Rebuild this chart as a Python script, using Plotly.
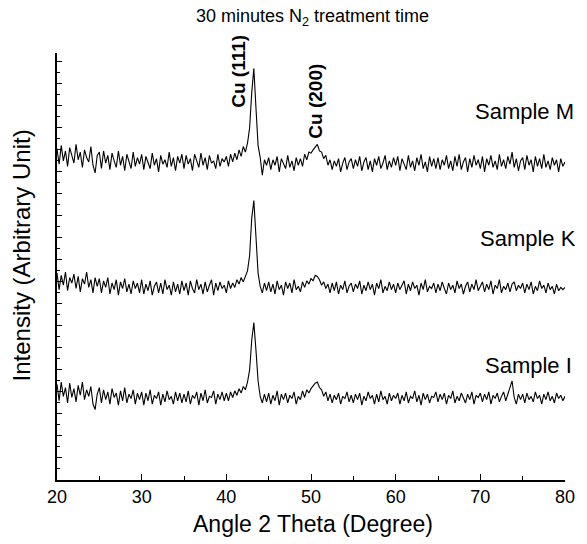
import plotly.graph_objects as go

# 2-theta sampling (degrees), 0.25 degree step from 20 to 80
angle_start = 20.0
angle_step = 0.25

sample_m = [
    30.1, 28.7, 30.4, 29.0, 29.9, 28.5, 30.2, 29.6, 28.8, 30.5, 29.1, 29.8, 28.4, 30.0, 29.3, 28.9, 30.3, 28.6, 27.9, 29.5,
    29.8, 28.3, 29.9, 28.8, 29.5, 28.2, 29.7, 29.0, 28.4, 29.9, 28.6, 29.4, 28.1, 29.6, 28.9, 28.3, 29.8, 28.5, 29.3, 28.7,
    29.6, 28.2, 29.4, 28.9, 28.3, 29.7, 28.6, 29.2, 28.0, 29.5, 28.7, 29.1, 28.4, 29.8, 28.5, 29.3, 28.1, 29.4, 28.8, 29.6,
    28.3, 29.5, 28.7, 29.2, 28.1, 29.6, 28.9, 28.4, 29.7, 28.6, 29.3, 28.2, 29.5, 28.8, 29.0, 28.3, 29.6, 28.5, 29.2, 28.9,
    29.4, 28.5, 29.6, 28.9, 29.7, 29.1, 30.0, 29.4, 30.3, 29.8, 30.6, 32.0, 35.2, 37.4, 33.8, 30.4, 29.3, 27.7, 29.1, 28.6,
    29.3, 28.2, 29.1, 28.6, 29.4, 28.0, 29.2, 28.7, 28.3, 29.5, 28.4, 29.0, 28.1, 29.3, 28.6, 29.2, 28.5, 29.6, 29.1, 29.8,
    29.7, 30.0, 30.2, 30.5, 29.9, 29.8, 29.2, 29.5, 28.6, 29.1, 28.2, 29.0, 28.5, 29.2, 28.0, 28.8, 29.3, 28.2, 28.9, 29.2,
    28.3, 29.1, 28.5, 29.4, 28.1, 28.9, 29.3, 28.2, 29.0, 28.0, 29.2, 28.6, 29.4, 28.3, 28.8, 29.5, 28.2, 29.0, 28.4, 29.3,
    28.6, 29.4, 28.1, 29.2, 28.7, 28.2, 29.5, 28.4, 29.0, 28.1, 29.3, 28.6, 29.6, 28.3, 28.9, 28.0, 29.4, 28.5, 29.2, 28.3,
    29.3, 28.2, 29.1, 28.6, 29.5, 28.3, 29.0, 28.1, 29.4, 28.5, 29.6, 28.2, 28.9, 29.3, 28.0, 29.2, 28.4, 29.5, 28.6, 29.1,
    28.3, 29.4, 28.0, 29.2, 28.6, 29.5, 28.4, 29.0, 28.2, 29.6, 28.5, 29.1, 28.3, 29.4, 28.7, 29.8, 28.4, 29.2, 28.1, 29.0,
    29.3, 28.2, 29.5, 28.6, 29.1, 28.0, 29.4, 28.5, 29.2, 28.3, 29.6, 28.4, 29.0, 28.2, 29.3, 28.6, 29.1, 28.0, 29.2, 28.5,
    28.9,
]

sample_k = [
    18.8, 17.3, 18.6, 17.7, 18.9, 17.2, 18.4, 17.9, 18.7, 17.4, 18.5, 17.1, 18.3, 17.8, 18.9, 17.5, 18.2, 17.0, 18.4, 17.6,
    18.3, 17.0, 18.1, 17.5, 18.4, 16.9, 17.9, 17.3, 18.2, 16.8, 18.0, 17.4, 18.3, 17.1, 17.8, 16.9, 18.1, 17.4, 17.9, 17.0,
    18.2, 16.9, 17.8, 17.2, 18.1, 16.8, 17.6, 18.0, 17.0, 17.9, 16.9, 18.2, 17.3, 17.7, 16.8, 18.0, 17.1, 17.8, 16.9, 18.1,
    17.2, 17.9, 16.8, 18.1, 17.4, 17.0, 18.2, 17.3, 17.8, 16.9, 18.0, 17.1, 17.7, 18.2, 16.8, 17.9, 17.2, 18.0, 17.4, 17.7,
    17.0, 18.1, 17.4, 17.9, 17.5, 18.2, 17.8, 18.4, 18.0, 18.6, 19.0, 20.4, 23.8, 25.4, 21.8, 18.8, 17.6, 17.0, 17.9, 17.2,
    18.0, 17.1, 17.8, 16.9, 18.1, 17.3, 17.7, 16.8, 18.0, 17.4, 17.9, 17.0, 18.2, 17.3, 17.6, 17.1, 18.0, 17.5, 18.1, 17.8,
    18.3, 18.1, 18.6, 18.5, 18.2, 17.7, 18.0, 17.4, 17.8, 17.0, 17.9, 17.2, 18.0, 16.9, 17.7, 17.3, 18.1, 17.0, 17.6, 17.9,
    17.1, 17.8, 17.4, 18.1, 16.9, 17.7, 17.2, 18.0, 17.3, 17.8, 16.8, 17.9, 17.4, 18.2, 17.0, 17.6, 17.2, 18.0, 17.3, 17.8,
    17.0, 17.9, 17.3, 17.7, 18.1, 16.9, 17.8, 17.2, 18.0, 17.4, 17.7, 16.8, 17.9, 17.3, 18.2, 17.1, 17.6, 17.4, 17.9, 17.0,
    17.8, 17.2, 18.0, 17.4, 16.9, 17.9, 17.3, 17.7, 17.0, 18.1, 17.4, 17.8, 16.9, 17.6, 18.0, 17.1, 17.8, 17.3, 18.2, 17.2,
    17.6, 18.0, 17.1, 17.8, 17.3, 18.1, 16.9, 17.7, 17.4, 18.2, 17.0, 17.6, 17.3, 17.9, 17.1, 17.8, 18.0, 17.2, 17.7, 17.4,
    17.9, 17.0, 17.8, 17.3, 18.0, 16.9, 17.6, 17.2, 18.1, 17.4, 17.7, 17.0, 17.9, 17.3, 17.6, 16.9, 17.8, 17.2, 17.5, 17.3,
    17.5,
]

sample_i = [
    8.7, 7.2, 8.9, 7.6, 8.4, 7.0, 8.8, 7.5, 8.3, 7.1, 8.6, 7.7, 8.9, 7.3, 8.2, 7.6, 8.5, 6.9, 6.4, 7.8,
    8.4, 7.0, 8.2, 7.3, 8.0, 6.9, 8.3, 7.5, 7.9, 6.8, 8.1, 7.2, 8.4, 7.0, 7.8, 7.4, 8.2, 6.9, 7.9, 7.3,
    8.0, 6.8, 7.9, 7.2, 8.2, 6.9, 7.7, 7.4, 8.0, 6.8, 7.8, 7.1, 8.1, 7.3, 7.6, 6.9, 8.0, 7.2, 7.9, 7.0,
    7.8, 7.1, 8.1, 6.9, 7.7, 7.4, 8.0, 6.8, 7.9, 7.2, 8.2, 7.0, 7.6, 7.5, 8.1, 6.9, 7.8, 7.3, 8.0, 7.2,
    7.9, 7.2, 8.0, 7.5, 8.1, 7.7, 8.3, 7.9, 8.5, 8.2, 8.9, 10.0, 12.7, 14.3, 11.8, 9.0, 7.6, 7.0, 7.8, 7.1,
    7.9, 6.9, 7.7, 7.2, 8.1, 6.8, 7.8, 7.3, 7.9, 7.0, 7.7, 7.4, 8.0, 6.9, 7.6, 7.3, 8.1, 7.5, 8.2, 7.9,
    8.3, 8.6, 8.8, 8.9, 8.4, 8.2, 7.6, 8.0, 7.2, 7.8, 7.0, 7.7, 7.3, 7.9, 6.9, 7.6, 7.4, 8.0, 7.1, 7.7,
    7.0, 7.8, 7.3, 7.9, 6.8, 7.6, 7.2, 8.0, 7.4, 7.7, 6.9, 7.8, 7.1, 8.1, 7.3, 7.6, 6.9, 7.9, 7.2, 7.7,
    7.4, 7.9, 6.9, 7.7, 7.2, 8.0, 7.0, 7.6, 7.4, 8.1, 7.1, 7.7, 6.8, 7.9, 7.3, 7.8, 7.0, 7.6, 7.5, 8.0,
    7.1, 7.8, 7.3, 7.9, 6.9, 7.7, 7.4, 8.1, 7.0, 7.6, 7.2, 7.9, 7.4, 7.0, 7.8, 7.3, 8.0, 6.9, 7.7, 7.5,
    7.9, 7.1, 7.8, 7.3, 8.0, 6.9, 7.7, 7.4, 7.9, 7.1, 7.6, 8.0, 7.2, 7.8, 8.3, 9.0, 7.5, 6.9, 7.8, 7.3,
    7.8, 7.0, 7.9, 7.3, 7.6, 7.1, 8.0, 7.4, 7.7, 6.9, 7.8, 7.3, 8.0, 7.2, 7.6, 7.0, 7.9, 7.4, 7.7, 7.2,
    7.6,
]

x_tick_values = [20, 30, 40, 50, 60, 70, 80]
x_tick_labels = ["20", "30", "40", "50", "60", "70", "80"]
sample_names = ["Sample M", "Sample K", "Sample I"]

angles = [angle_start + angle_step * i for i in range(len(sample_m))]

FONT = "Liberation Sans, Arial, Helvetica, sans-serif"

fig = go.Figure()
for name, ys in zip(sample_names, [sample_m, sample_k, sample_i]):
    fig.add_trace(go.Scatter(x=angles, y=ys, mode="lines", name=name,
                             line=dict(color="black", width=1.1), showlegend=False,
                             hoverinfo="skip"))

# sample labels (paper coordinates, right-aligned)
label_pos = {"Sample M": (1.021, 0.862), "Sample K": (1.025, 0.565), "Sample I": (1.017, 0.267)}
for name in sample_names:
    lx, ly = label_pos[name]
    fig.add_annotation(x=lx, y=ly, xref="paper", yref="paper", text=name, showarrow=False,
                       xanchor="right", yanchor="middle",
                       font=dict(family=FONT, size=22, color="black"))

# peak labels
fig.add_annotation(x=41.5, y=37.1, xref="x", yref="y", text="<b>Cu (111)</b>", textangle=-90,
                   showarrow=False, font=dict(family=FONT, size=19, color="black"))
fig.add_annotation(x=50.5, y=34.4, xref="x", yref="y", text="<b>Cu (200)</b>", textangle=-90,
                   showarrow=False, font=dict(family=FONT, size=19, color="black"))

# title
fig.add_annotation(x=0.503, y=1.082, xref="paper", yref="paper",
                   text="30 minutes N<sub>2</sub> treatment time", showarrow=False,
                   xanchor="center", yanchor="middle",
                   font=dict(family=FONT, size=18, color="black"))

# axis titles
fig.add_annotation(x=0.503, y=-0.104, xref="paper", yref="paper",
                   text="Angle 2 Theta (Degree)", showarrow=False,
                   xanchor="center", yanchor="middle",
                   font=dict(family=FONT, size=23, color="black"))
fig.add_annotation(x=-0.068, y=0.527, xref="paper", yref="paper",
                   text="Intensity (Arbitrary Unit)", showarrow=False, textangle=-90,
                   xanchor="center", yanchor="middle",
                   font=dict(family=FONT, size=24, color="black"))

fig.update_xaxes(range=[20, 80], showline=True, linecolor="black", linewidth=1.5,
                 ticks="inside", ticklen=6, tickwidth=1.2, tickcolor="black",
                 tickvals=x_tick_values, ticktext=x_tick_labels,
                 minor=dict(ticks="inside", ticklen=4, dtick=5, tickcolor="black", tickwidth=1),
                 showgrid=False, zeroline=False,
                 tickfont=dict(family=FONT, size=18, color="black"))
fig.update_yaxes(range=[0, 38.8], showline=True, linecolor="black", linewidth=1.5,
                 ticks="inside", ticklen=5, tickwidth=1.2, tickcolor="black",
                 tick0=0, dtick=2,
                 minor=dict(ticks="inside", ticklen=3, dtick=1, tickcolor="black", tickwidth=1),
                 showticklabels=False, showgrid=False, zeroline=False)

fig.update_layout(width=587, height=544,
                  margin=dict(l=57, r=13, t=53, b=64),
                  paper_bgcolor="white", plot_bgcolor="white",
                  font=dict(family=FONT, color="black"),
                  hovermode=False)

fig.write_html("out.html", config={"displayModeBar": False},
               post_script="document.body.style.margin='0';")
